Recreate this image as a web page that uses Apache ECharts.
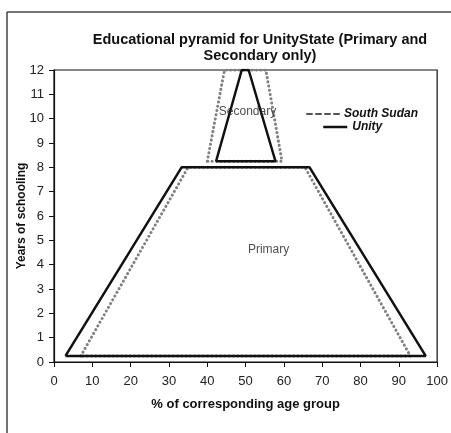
<!DOCTYPE html>
<html><head><meta charset="utf-8">
<script src="https://cdn.jsdelivr.net/npm/echarts@6/dist/echarts.min.js"></script>
<style>html,body{margin:0;padding:0;background:#fff}#c{width:451px;height:433px}</style>
</head><body><div id="c"></div>
<script>
// Data (x = % of corresponding age group, y = years of schooling)
const unityPrimary = [[3,0.25],[33.3,8],[66.7,8],[97,0.25],[3,0.25]];
const unitySecondary = [[42.3,8.25],[49,12],[50.8,12],[57.8,8.25],[42.3,8.25]];
const southSudanPrimary = [[7,0.25],[35,8],[65.5,8],[93,0.25],[7,0.25]];
const southSudanSecondary = [[40,8.25],[44.5,12],[55.3,12],[59.5,8.25],[40,8.25]];
const annotations = [{name:'Secondary', value:[50.5,10.3]},{name:'Primary', value:[56,4.6]}];
const xTicks = [0,10,20,30,40,50,60,70,80,90,100];
const yTicks = [0,1,2,3,4,5,6,7,8,9,10,11,12];

const font = 'Liberation Sans, Arial, sans-serif';
const chart = echarts.init(document.getElementById('c'), null, {renderer:'canvas'});
const dotted = {color:'#808080', width:3, type:[0.1,4.2], cap:'round'};
const solid = {color:'#111', width:2.5, type:'solid'};
const legendText = {fontFamily:font, fontSize:12, fontWeight:'bold', fontStyle:'italic', color:'#111'};
const noMarker = {color:'transparent', borderColor:'transparent', borderWidth:0, opacity:0};
chart.setOption({
  animation:false,
  title:{text:'Educational pyramid for UnityState (Primary and\nSecondary only)', left:255, top:27, textAlign:'center',
    textStyle:{fontFamily:font, fontSize:14.5, fontWeight:'bold', color:'#111', lineHeight:16}},
  grid:{left:54, right:9, top:70, bottom:71, show:true, borderColor:'#111', borderWidth:1.2, backgroundColor:'#fff'},
  legend:[
    {left:306, top:108, padding:0, itemWidth:32, itemHeight:10, textStyle:legendText,
     data:[{name:'South Sudan', itemStyle:noMarker, lineStyle:{color:'#555', width:2, type:[5,4]}}]},
    {left:322, top:121, padding:0, itemWidth:24, itemHeight:10, textStyle:legendText,
     data:[{name:'Unity', itemStyle:noMarker, lineStyle:{color:'#111', width:2.5, type:'solid'}}]}
  ],
  xAxis:{type:'value', min:xTicks[0], max:xTicks[xTicks.length-1], interval:10,
    name:'% of corresponding age group', nameLocation:'middle', nameGap:36, nameMoveOverlap:false,
    nameTextStyle:{fontFamily:font, fontSize:13, fontWeight:'bold', color:'#111'},
    axisLine:{show:true, lineStyle:{color:'#111', width:1.2}}, axisTick:{show:true, length:5, lineStyle:{color:'#111'}},
    axisLabel:{fontFamily:font, fontSize:13, color:'#222', margin:13, showMaxLabel:true}, splitLine:{show:false}},
  yAxis:{type:'value', min:yTicks[0], max:yTicks[yTicks.length-1], interval:1,
    name:'Years of schooling', nameLocation:'middle', nameGap:26, nameRotate:90, nameMoveOverlap:false,
    nameTextStyle:{fontFamily:font, fontSize:12, fontWeight:'bold', color:'#111'},
    axisLine:{show:true, lineStyle:{color:'#111', width:1.2}}, axisTick:{show:true, length:5, lineStyle:{color:'#111'}},
    axisLabel:{fontFamily:font, fontSize:13, color:'#222', margin:10}, splitLine:{show:false}},
  graphic:[
    {type:'line', shape:{x1:7, y1:12, x2:7, y2:433}, style:{stroke:'#444', lineWidth:1.5}},
    {type:'line', shape:{x1:7, y1:12, x2:451, y2:12}, style:{stroke:'#444', lineWidth:1.5}}
  ],
  series:[
    {name:'South Sudan', type:'line', data:southSudanPrimary, symbol:'none', lineStyle:dotted, z:2},
    {name:'South Sudan', type:'line', data:southSudanSecondary, symbol:'none', lineStyle:dotted, z:2},
    {name:'Unity', type:'line', data:unityPrimary, symbol:'none', lineStyle:solid, z:3},
    {name:'Unity', type:'line', data:unitySecondary, symbol:'none', lineStyle:solid, z:3},
    {name:'labels', type:'scatter', data:annotations, symbolSize:0, z:4,
      label:{show:true, position:'inside', formatter:p=>p.name, fontFamily:font, fontSize:12, color:'#222'}}
  ]
});
</script></body></html>
